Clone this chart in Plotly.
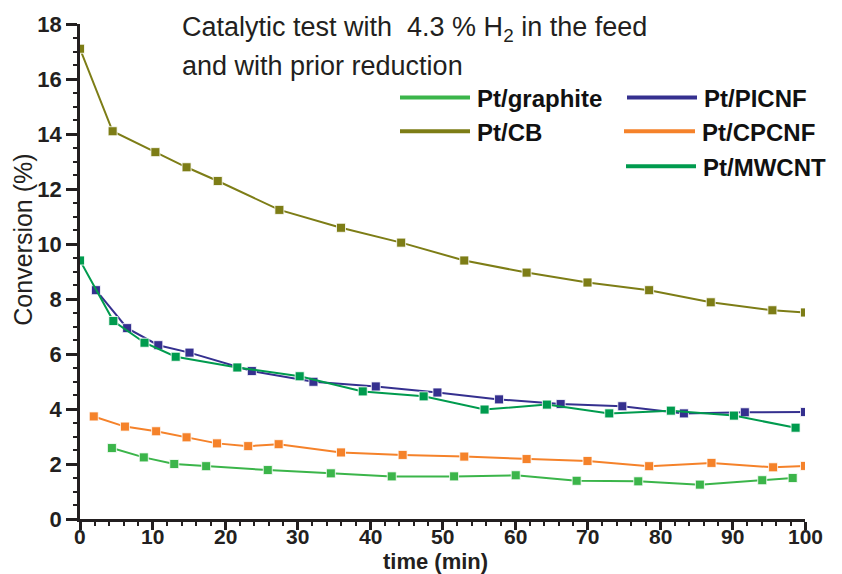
import plotly.graph_objects as go

# ---- data ----
cb_t = [0, 4.5, 10.4, 14.7, 19.0, 27.5, 36.0, 44.3, 53.0, 61.6, 70.0, 78.5, 87.0, 95.5, 100]
cb_y = [17.1, 14.1, 13.34, 12.79, 12.29, 11.24, 10.59, 10.05, 9.40, 8.96, 8.60, 8.32, 7.88, 7.59, 7.51]

picnf_t = [2.2, 6.5, 10.8, 15.1, 23.7, 32.2, 40.8, 49.3, 57.8, 66.3, 74.8, 83.3, 91.7, 100]
picnf_y = [8.32, 6.94, 6.32, 6.05, 5.38, 4.99, 4.82, 4.60, 4.35, 4.18, 4.10, 3.84, 3.88, 3.89]

mwcnt_t = [0, 4.6, 8.9, 13.2, 21.7, 30.3, 39.0, 47.4, 55.8, 64.4, 73.0, 81.5, 90.2, 98.7]
mwcnt_y = [9.40, 7.20, 6.41, 5.90, 5.51, 5.19, 4.64, 4.46, 3.98, 4.16, 3.84, 3.94, 3.76, 3.32]

cpcnf_t = [1.9, 6.2, 10.5, 14.7, 18.9, 23.2, 27.4, 36.0, 44.5, 53.0, 61.6, 70.0, 78.5, 87.1, 95.6, 100]
cpcnf_y = [3.73, 3.36, 3.19, 2.97, 2.75, 2.65, 2.72, 2.42, 2.33, 2.27, 2.18, 2.11, 1.92, 2.04, 1.88, 1.93]

graph_t = [4.4, 8.8, 13.0, 17.4, 25.9, 34.6, 43.0, 51.6, 60.1, 68.5, 77.0, 85.5, 94.1, 98.3]
graph_y = [2.58, 2.24, 2.00, 1.92, 1.78, 1.66, 1.55, 1.55, 1.59, 1.39, 1.37, 1.25, 1.41, 1.49]

x_ticks = [0, 10, 20, 30, 40, 50, 60, 70, 80, 90, 100]
y_ticks = [0, 2, 4, 6, 8, 10, 12, 14, 16, 18]

colors = {"Pt/graphite": "#3bb54a", "Pt/CB": "#7d7d16", "Pt/PICNF": "#35308f",
          "Pt/CPCNF": "#f5822a", "Pt/MWCNT": "#009b4e"}

series = [("Pt/CB", cb_t, cb_y), ("Pt/PICNF", picnf_t, picnf_y), ("Pt/MWCNT", mwcnt_t, mwcnt_y),
          ("Pt/CPCNF", cpcnf_t, cpcnf_y), ("Pt/graphite", graph_t, graph_y)]

AX = "#231f20"
FONT = "Liberation Sans, Arial, sans-serif"
fig = go.Figure()
for name, t, y in series:
    fig.add_trace(go.Scatter(
        x=t, y=y, name=name, mode="lines+markers", showlegend=False,
        line=dict(color=colors[name], width=2),
        marker=dict(symbol="square", size=9, color=colors[name],
                    line=dict(color="rgba(255,255,255,0.8)", width=1)),
    ))

W, H, L, R, T, B = 842, 574, 80, 37, 21, 55
pw, ph = W - L - R, H - T - B

fig.update_layout(
    width=W, height=H,
    margin=dict(l=L, r=R, t=T, b=B),
    plot_bgcolor="white", paper_bgcolor="white",
    font=dict(family=FONT, color=AX),
)
fig.update_xaxes(
    range=[0, 100], showgrid=False, zeroline=False,
    showline=True, linecolor=AX, linewidth=2.5,
    ticks="outside", ticklen=8, tickwidth=2.5, tickcolor=AX,
    tickvals=x_ticks, showticklabels=False,
    minor=dict(dtick=2, ticks="outside", ticklen=4, tickwidth=2, tickcolor=AX),
)
fig.update_yaxes(
    range=[0, 18], showgrid=False, zeroline=False,
    showline=True, linecolor=AX, linewidth=2.5,
    ticks="outside", ticklen=11, tickwidth=2.5, tickcolor=AX,
    tickvals=y_ticks, ticktext=["<b>%d</b>" % v for v in y_ticks],
    minor=dict(dtick=0.5, ticks="outside", ticklen=4, tickwidth=2, tickcolor=AX),
    tickfont=dict(family=FONT, size=22, color=AX, weight="bold"),
)

def px_x(p):
    return (p - L) / pw

def px_y(p):
    return 1 - (p - T) / ph

# x tick labels placed just under the ticks (at the tick values)
for v in x_ticks:
    fig.add_annotation(text="<b>%d</b>" % v, xref="x", yref="paper", x=v, y=px_y(537),
                       showarrow=False, xanchor="center", yanchor="middle", borderpad=0,
                       font=dict(size=21, color=AX))

# axis titles as annotations
fig.add_annotation(text="Conversion (%)", xref="paper", yref="paper", x=px_x(23), y=px_y(238),
                   textangle=-90, showarrow=False, font=dict(size=25, color=AX),
                   xanchor="center", yanchor="middle")
fig.add_annotation(text="<b>time (min)</b>", xref="paper", yref="paper", x=px_x(435), y=px_y(562),
                   showarrow=False, font=dict(size=22, color=AX), borderpad=0,
                   xanchor="center", yanchor="middle")

# header text (two lines)
fig.add_annotation(text="Catalytic test with  4.3 % H<sub>2</sub> in the feed",
                   xref="paper", yref="paper", x=px_x(180), y=px_y(26), xanchor="left", yanchor="middle",
                   showarrow=False, font=dict(size=27, color=AX))
fig.add_annotation(text="and with prior reduction",
                   xref="paper", yref="paper", x=px_x(180), y=px_y(63), xanchor="left", yanchor="middle",
                   showarrow=False, font=dict(size=27, color=AX))

# manual legend (two columns)
leg = [("Pt/graphite", 400, 470, 95), ("Pt/CB", 400, 470, 129),
       ("Pt/PICNF", 627, 697, 95), ("Pt/CPCNF", 624, 695, 129), ("Pt/MWCNT", 626, 696, 164)]
for name, x0, x1, yy in leg:
    fig.add_shape(type="line", xref="paper", yref="paper", x0=px_x(x0), x1=px_x(x1),
                  y0=px_y(yy), y1=px_y(yy), line=dict(color=colors[name], width=4))
    fig.add_annotation(text="<b>" + name + "</b>", xref="paper", yref="paper",
                       x=px_x(x1 + 5), y=px_y(yy + 1), xanchor="left", yanchor="middle",
                       showarrow=False, font=dict(size=24, color="#111111"))

fig.write_html("out.html")
